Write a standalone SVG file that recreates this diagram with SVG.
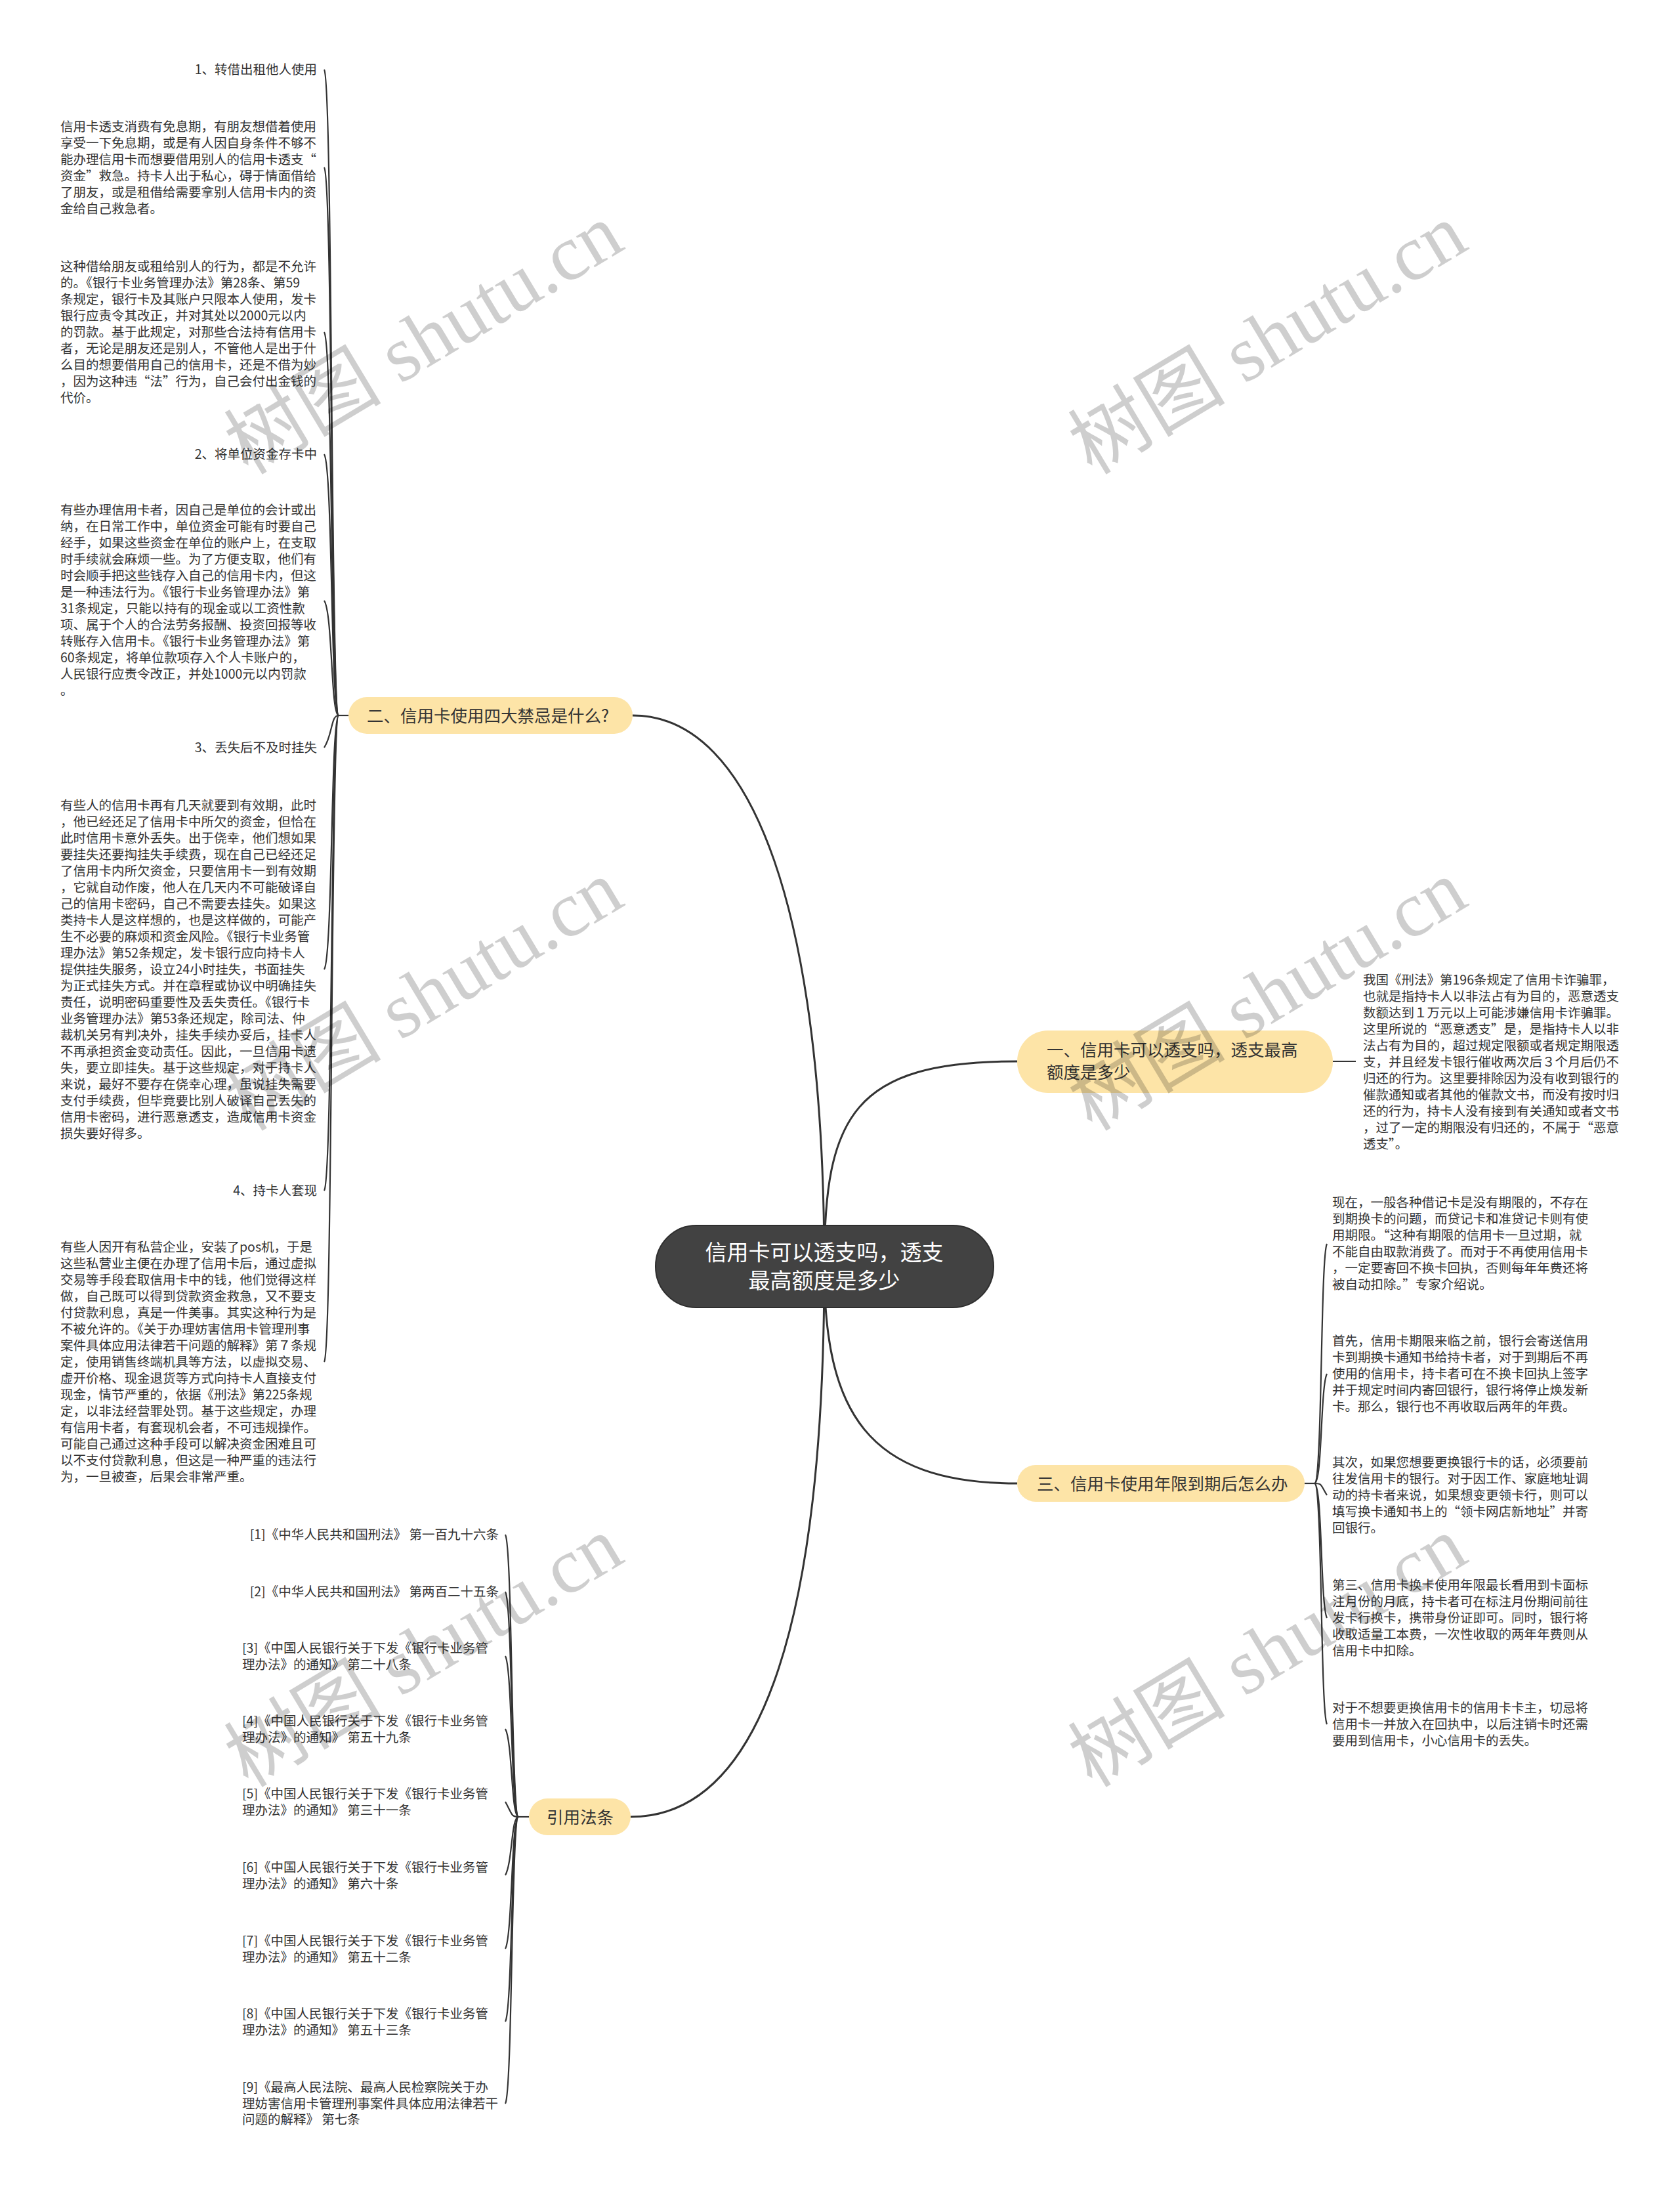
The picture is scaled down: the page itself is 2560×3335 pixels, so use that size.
<svg xmlns="http://www.w3.org/2000/svg" width="2560" height="3335" viewBox="0 0 2560 3335">
<style>
text{font-family:"Noto Sans CJK SC","Noto Sans",sans-serif;}
.leaf{font-size:19.5px;fill:#333;}
.branch{font-size:25.5px;fill:#333;}
.roott{font-size:33px;fill:#fff;}
.bnode{fill:#fde4a7;}
.rnode{fill:#424242;stroke:#2e2e2e;stroke-width:2;}
.main{fill:none;stroke:#333;stroke-width:3;}
.sub{fill:none;stroke:#333;stroke-width:2.2;}
.wm{font-family:"Liberation Serif","Noto Sans CJK SC",serif;font-size:120px;fill:#000;opacity:0.19;}
</style>
<rect x="0" y="0" width="2560" height="3335" fill="#fff"/>
<g id="connectors">
<path class="main" d="M 964 1090 C 1150 1090, 1256 1400, 1256 1929"/>
<path class="main" d="M 1256 1929 C 1256 1700, 1300 1617, 1550 1617"/>
<path class="main" d="M 1256 1929 C 1256 2150, 1320 2260, 1550 2260"/>
<path class="main" d="M 1256 1929 C 1256 2500, 1150 2768, 961 2768"/>
<path class="sub" d="M 531 1090 H 516"/>
<path class="sub" d="M 516 1090 C 504 1090, 507 126, 494 106"/>
<path class="sub" d="M 516 1090 C 504 1090, 507 275, 494 255"/>
<path class="sub" d="M 516 1090 C 504 1090, 507 526, 494 506"/>
<path class="sub" d="M 516 1090 C 504 1090, 507 712, 494 692"/>
<path class="sub" d="M 516 1090 C 504 1090, 507 935, 494 915"/>
<path class="sub" d="M 516 1090 C 504 1090, 507 1119, 494 1139"/>
<path class="sub" d="M 516 1090 C 504 1090, 507 1457, 494 1477"/>
<path class="sub" d="M 516 1090 C 504 1090, 507 1794, 494 1814"/>
<path class="sub" d="M 516 1090 C 504 1090, 507 2055, 494 2075"/>
<path class="sub" d="M 2031 1617 H 2066"/>
<path class="sub" d="M 1988 2260 H 2003"/>
<path class="sub" d="M 2003 2260 C 2015 2260, 2012 1915, 2022 1895"/>
<path class="sub" d="M 2003 2260 C 2015 2260, 2012 2113, 2022 2093"/>
<path class="sub" d="M 2003 2260 C 2015 2260, 2012 2262, 2022 2278"/>
<path class="sub" d="M 2003 2260 C 2015 2260, 2012 2445, 2022 2465"/>
<path class="sub" d="M 2003 2260 C 2015 2260, 2012 2607, 2022 2627"/>
<path class="sub" d="M 806 2768 H 790"/>
<path class="sub" d="M 790 2768 C 779 2768, 781 2358, 770 2338"/>
<path class="sub" d="M 790 2768 C 779 2768, 781 2445, 770 2425"/>
<path class="sub" d="M 790 2768 C 779 2768, 781 2543, 770 2523"/>
<path class="sub" d="M 790 2768 C 779 2768, 781 2654, 770 2634"/>
<path class="sub" d="M 790 2768 C 779 2768, 781 2765, 770 2745"/>
<path class="sub" d="M 790 2768 C 779 2768, 781 2837, 770 2857"/>
<path class="sub" d="M 790 2768 C 779 2768, 781 2949, 770 2969"/>
<path class="sub" d="M 790 2768 C 779 2768, 781 3060, 770 3080"/>
<path class="sub" d="M 790 2768 C 779 2768, 781 3185, 770 3205"/>
</g>
<g id="root">
<rect class="rnode" x="999" y="1867" width="515" height="125" rx="62"/>
<text class="roott" text-anchor="middle"><tspan x="1256" y="1920">信用卡可以透支吗，透支</tspan><tspan x="1256" y="1963">最高额度是多少</tspan></text>
</g>
<g id="branch2">
<rect class="bnode" x="531" y="1062" width="433" height="56" rx="28"/>
<text class="branch" x="559" y="1100">二、信用卡使用四大禁忌是什么?</text>
</g>
<g id="branch1">
<rect class="bnode" x="1550" y="1570" width="481" height="95" rx="47"/>
<text class="branch"><tspan x="1595" y="1609">一、信用卡可以透支吗，透支最高</tspan><tspan x="1595" y="1643">额度是多少</tspan></text>
</g>
<g id="branch3">
<rect class="bnode" x="1550" y="2232" width="438" height="56" rx="28"/>
<text class="branch" x="1580" y="2270">三、信用卡使用年限到期后怎么办</text>
</g>
<g id="branch4">
<rect class="bnode" x="806" y="2740" width="155" height="56" rx="28"/>
<text class="branch" x="833" y="2778">引用法条</text>
</g>
<g id="leaf-h1"><text class="leaf" x="483" y="113" text-anchor="end">1、转借出租他人使用</text></g>
<g id="leaf-p1"><text class="leaf">
<tspan x="92" y="200">信用卡透支消费有免息期，有朋友想借着使用</tspan>
<tspan x="92" y="225">享受一下免息期，或是有人因自身条件不够不</tspan>
<tspan x="92" y="250">能办理信用卡而想要借用别人的信用卡透支“</tspan>
<tspan x="92" y="275">资金”救急。持卡人出于私心，碍于情面借给</tspan>
<tspan x="92" y="300">了朋友，或是租借给需要拿别人信用卡内的资</tspan>
<tspan x="92" y="325">金给自己救急者。</tspan>
</text></g>
<g id="leaf-p2"><text class="leaf">
<tspan x="92" y="413">这种借给朋友或租给别人的行为，都是不允许</tspan>
<tspan x="92" y="438">的。《银行卡业务管理办法》第28条、第59</tspan>
<tspan x="92" y="463">条规定，银行卡及其账户只限本人使用，发卡</tspan>
<tspan x="92" y="488">银行应责令其改正，并对其处以2000元以内</tspan>
<tspan x="92" y="513">的罚款。基于此规定，对那些合法持有信用卡</tspan>
<tspan x="92" y="538">者，无论是朋友还是别人，不管他人是出于什</tspan>
<tspan x="92" y="563">么目的想要借用自己的信用卡，还是不借为妙</tspan>
<tspan x="92" y="588">，因为这种违“法”行为，自己会付出金钱的</tspan>
<tspan x="92" y="613">代价。</tspan>
</text></g>
<g id="leaf-h2"><text class="leaf" x="483" y="699" text-anchor="end">2、将单位资金存卡中</text></g>
<g id="leaf-p3"><text class="leaf">
<tspan x="92" y="784">有些办理信用卡者，因自己是单位的会计或出</tspan>
<tspan x="92" y="809">纳，在日常工作中，单位资金可能有时要自己</tspan>
<tspan x="92" y="834">经手，如果这些资金在单位的账户上，在支取</tspan>
<tspan x="92" y="859">时手续就会麻烦一些。为了方便支取，他们有</tspan>
<tspan x="92" y="884">时会顺手把这些钱存入自己的信用卡内，但这</tspan>
<tspan x="92" y="909">是一种违法行为。《银行卡业务管理办法》第</tspan>
<tspan x="92" y="934">31条规定，只能以持有的现金或以工资性款</tspan>
<tspan x="92" y="959">项、属于个人的合法劳务报酬、投资回报等收</tspan>
<tspan x="92" y="984">转账存入信用卡。《银行卡业务管理办法》第</tspan>
<tspan x="92" y="1009">60条规定，将单位款项存入个人卡账户的，</tspan>
<tspan x="92" y="1034">人民银行应责令改正，并处1000元以内罚款</tspan>
<tspan x="92" y="1059">。</tspan>
</text></g>
<g id="leaf-h3"><text class="leaf" x="483" y="1146" text-anchor="end">3、丢失后不及时挂失</text></g>
<g id="leaf-p4"><text class="leaf">
<tspan x="92" y="1234">有些人的信用卡再有几天就要到有效期，此时</tspan>
<tspan x="92" y="1259">，他已经还足了信用卡中所欠的资金，但恰在</tspan>
<tspan x="92" y="1284">此时信用卡意外丢失。出于侥幸，他们想如果</tspan>
<tspan x="92" y="1309">要挂失还要掏挂失手续费，现在自己已经还足</tspan>
<tspan x="92" y="1334">了信用卡内所欠资金，只要信用卡一到有效期</tspan>
<tspan x="92" y="1359">，它就自动作废，他人在几天内不可能破译自</tspan>
<tspan x="92" y="1384">己的信用卡密码，自己不需要去挂失。如果这</tspan>
<tspan x="92" y="1409">类持卡人是这样想的，也是这样做的，可能产</tspan>
<tspan x="92" y="1434">生不必要的麻烦和资金风险。《银行卡业务管</tspan>
<tspan x="92" y="1459">理办法》第52条规定，发卡银行应向持卡人</tspan>
<tspan x="92" y="1484">提供挂失服务，设立24小时挂失，书面挂失</tspan>
<tspan x="92" y="1509">为正式挂失方式。并在章程或协议中明确挂失</tspan>
<tspan x="92" y="1534">责任，说明密码重要性及丢失责任。《银行卡</tspan>
<tspan x="92" y="1559">业务管理办法》第53条还规定，除司法、仲</tspan>
<tspan x="92" y="1584">裁机关另有判决外，挂失手续办妥后，挂卡人</tspan>
<tspan x="92" y="1609">不再承担资金变动责任。因此，一旦信用卡遗</tspan>
<tspan x="92" y="1634">失，要立即挂失。基于这些规定，对于持卡人</tspan>
<tspan x="92" y="1659">来说，最好不要存在侥幸心理，虽说挂失需要</tspan>
<tspan x="92" y="1684">支付手续费，但毕竟要比别人破译自己丢失的</tspan>
<tspan x="92" y="1709">信用卡密码，进行恶意透支，造成信用卡资金</tspan>
<tspan x="92" y="1734">损失要好得多。</tspan>
</text></g>
<g id="leaf-h4"><text class="leaf" x="483" y="1821" text-anchor="end">4、持卡人套现</text></g>
<g id="leaf-p5"><text class="leaf">
<tspan x="92" y="1907">有些人因开有私营企业，安装了pos机，于是</tspan>
<tspan x="92" y="1932">这些私营业主便在办理了信用卡后，通过虚拟</tspan>
<tspan x="92" y="1957">交易等手段套取信用卡中的钱，他们觉得这样</tspan>
<tspan x="92" y="1982">做，自己既可以得到贷款资金救急，又不要支</tspan>
<tspan x="92" y="2007">付贷款利息，真是一件美事。其实这种行为是</tspan>
<tspan x="92" y="2032">不被允许的。《关于办理妨害信用卡管理刑事</tspan>
<tspan x="92" y="2057">案件具体应用法律若干问题的解释》第７条规</tspan>
<tspan x="92" y="2082">定，使用销售终端机具等方法，以虚拟交易、</tspan>
<tspan x="92" y="2107">虚开价格、现金退货等方式向持卡人直接支付</tspan>
<tspan x="92" y="2132">现金，情节严重的，依据《刑法》第225条规</tspan>
<tspan x="92" y="2157">定，以非法经营罪处罚。基于这些规定，办理</tspan>
<tspan x="92" y="2182">有信用卡者，有套现机会者，不可违规操作。</tspan>
<tspan x="92" y="2207">可能自己通过这种手段可以解决资金困难且可</tspan>
<tspan x="92" y="2232">以不支付贷款利息，但这是一种严重的违法行</tspan>
<tspan x="92" y="2257">为，一旦被查，后果会非常严重。</tspan>
</text></g>
<g id="leaf-1a"><text class="leaf">
<tspan x="2077" y="1500">我国《刑法》第196条规定了信用卡诈骗罪，</tspan>
<tspan x="2077" y="1525">也就是指持卡人以非法占有为目的，恶意透支</tspan>
<tspan x="2077" y="1550">数额达到１万元以上可能涉嫌信用卡诈骗罪。</tspan>
<tspan x="2077" y="1575">这里所说的“恶意透支”是，是指持卡人以非</tspan>
<tspan x="2077" y="1600">法占有为目的，超过规定限额或者规定期限透</tspan>
<tspan x="2077" y="1625">支，并且经发卡银行催收两次后３个月后仍不</tspan>
<tspan x="2077" y="1650">归还的行为。这里要排除因为没有收到银行的</tspan>
<tspan x="2077" y="1675">催款通知或者其他的催款文书，而没有按时归</tspan>
<tspan x="2077" y="1700">还的行为，持卡人没有接到有关通知或者文书</tspan>
<tspan x="2077" y="1725">，过了一定的期限没有归还的，不属于“恶意</tspan>
<tspan x="2077" y="1750">透支”。</tspan>
</text></g>
<g id="leaf-3a"><text class="leaf">
<tspan x="2030" y="1839">现在，一般各种借记卡是没有期限的，不存在</tspan>
<tspan x="2030" y="1864">到期换卡的问题，而贷记卡和准贷记卡则有使</tspan>
<tspan x="2030" y="1889">用期限。“这种有期限的信用卡一旦过期，就</tspan>
<tspan x="2030" y="1914">不能自由取款消费了。而对于不再使用信用卡</tspan>
<tspan x="2030" y="1939">，一定要寄回不换卡回执，否则每年年费还将</tspan>
<tspan x="2030" y="1964">被自动扣除。”专家介绍说。</tspan>
</text></g>
<g id="leaf-3b"><text class="leaf">
<tspan x="2030" y="2050">首先，信用卡期限来临之前，银行会寄送信用</tspan>
<tspan x="2030" y="2075">卡到期换卡通知书给持卡者，对于到期后不再</tspan>
<tspan x="2030" y="2100">使用的信用卡，持卡者可在不换卡回执上签字</tspan>
<tspan x="2030" y="2125">并于规定时间内寄回银行，银行将停止焕发新</tspan>
<tspan x="2030" y="2150">卡。那么，银行也不再收取后两年的年费。</tspan>
</text></g>
<g id="leaf-3c"><text class="leaf">
<tspan x="2030" y="2235">其次，如果您想要更换银行卡的话，必须要前</tspan>
<tspan x="2030" y="2260">往发信用卡的银行。对于因工作、家庭地址调</tspan>
<tspan x="2030" y="2285">动的持卡者来说，如果想变更领卡行，则可以</tspan>
<tspan x="2030" y="2310">填写换卡通知书上的“领卡网店新地址”并寄</tspan>
<tspan x="2030" y="2335">回银行。</tspan>
</text></g>
<g id="leaf-3d"><text class="leaf">
<tspan x="2030" y="2422">第三、信用卡换卡使用年限最长看用到卡面标</tspan>
<tspan x="2030" y="2447">注月份的月底，持卡者可在标注月份期间前往</tspan>
<tspan x="2030" y="2472">发卡行换卡，携带身份证即可。同时，银行将</tspan>
<tspan x="2030" y="2497">收取适量工本费，一次性收取的两年年费则从</tspan>
<tspan x="2030" y="2522">信用卡中扣除。</tspan>
</text></g>
<g id="leaf-3e"><text class="leaf">
<tspan x="2030" y="2609">对于不想要更换信用卡的信用卡卡主，切忌将</tspan>
<tspan x="2030" y="2634">信用卡一并放入在回执中，以后注销卡时还需</tspan>
<tspan x="2030" y="2659">要用到信用卡，小心信用卡的丢失。</tspan>
</text></g>
<g id="ref1"><text class="leaf" x="760" y="2345" text-anchor="end">[1]《中华人民共和国刑法》 第一百九十六条</text></g>
<g id="ref2"><text class="leaf" x="760" y="2432" text-anchor="end">[2]《中华人民共和国刑法》 第两百二十五条</text></g>
<g id="ref3"><text class="leaf"><tspan x="369" y="2518">[3]《中国人民银行关于下发《银行卡业务管</tspan><tspan x="369" y="2543">理办法》的通知》 第二十八条</tspan></text></g>
<g id="ref4"><text class="leaf"><tspan x="369" y="2629">[4]《中国人民银行关于下发《银行卡业务管</tspan><tspan x="369" y="2654">理办法》的通知》 第五十九条</tspan></text></g>
<g id="ref5"><text class="leaf"><tspan x="369" y="2740">[5]《中国人民银行关于下发《银行卡业务管</tspan><tspan x="369" y="2765">理办法》的通知》 第三十一条</tspan></text></g>
<g id="ref6"><text class="leaf"><tspan x="369" y="2852">[6]《中国人民银行关于下发《银行卡业务管</tspan><tspan x="369" y="2877">理办法》的通知》 第六十条</tspan></text></g>
<g id="ref7"><text class="leaf"><tspan x="369" y="2964">[7]《中国人民银行关于下发《银行卡业务管</tspan><tspan x="369" y="2989">理办法》的通知》 第五十二条</tspan></text></g>
<g id="ref8"><text class="leaf"><tspan x="369" y="3075">[8]《中国人民银行关于下发《银行卡业务管</tspan><tspan x="369" y="3100">理办法》的通知》 第五十三条</tspan></text></g>
<g id="ref9"><text class="leaf"><tspan x="369" y="3187">[9]《最高人民法院、最高人民检察院关于办</tspan><tspan x="369" y="3212">理妨害信用卡管理刑事案件具体应用法律若干</tspan><tspan x="369" y="3236">问题的解释》 第七条</tspan></text></g>
<g id="watermarks">
<text class="wm" text-anchor="middle" transform="translate(646 517) rotate(-31)" x="0" y="40">树图 shutu.cn</text>
<text class="wm" text-anchor="middle" transform="translate(1932 517) rotate(-31)" x="0" y="40">树图 shutu.cn</text>
<text class="wm" text-anchor="middle" transform="translate(646 1517) rotate(-31)" x="0" y="40">树图 shutu.cn</text>
<text class="wm" text-anchor="middle" transform="translate(1932 1517) rotate(-31)" x="0" y="40">树图 shutu.cn</text>
<text class="wm" text-anchor="middle" transform="translate(646 2517) rotate(-31)" x="0" y="40">树图 shutu.cn</text>
<text class="wm" text-anchor="middle" transform="translate(1932 2517) rotate(-31)" x="0" y="40">树图 shutu.cn</text>
</g>
</svg>
